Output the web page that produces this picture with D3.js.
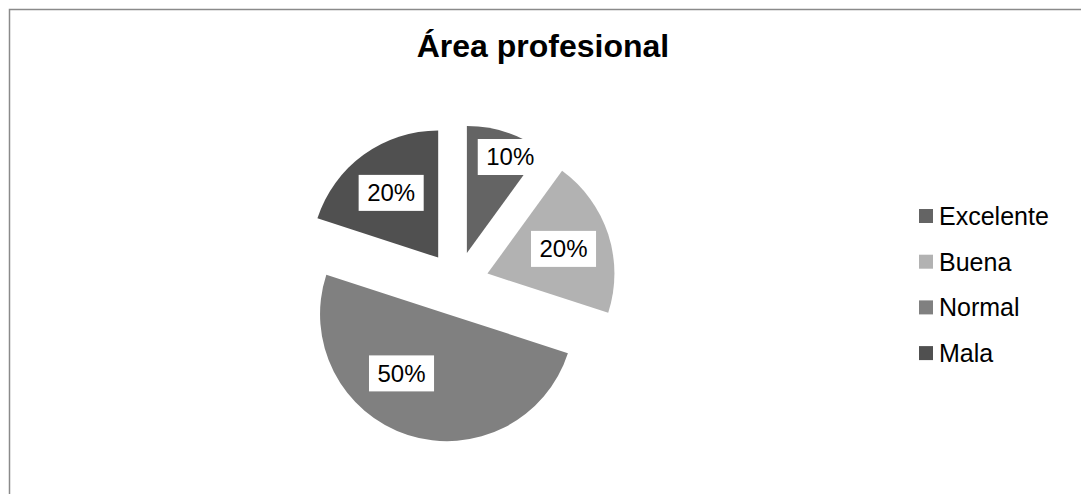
<!DOCTYPE html>
<html>
<head>
<meta charset="utf-8">
<script src="https://cdn.jsdelivr.net/npm/d3@7"></script>
<style>
  body { margin: 0; background: #fff; }
  svg { display: block; font-family: "Liberation Sans", Arial, sans-serif; }
</style>
</head>
<body>
<div id="chart"></div>
<script>
const title = 'Área profesional';
const categories = ['Excelente', 'Buena', 'Normal', 'Mala'];
const values = [10, 20, 50, 20];
const colors = ['#646464', '#b2b2b2', '#808080', '#505050'];

const width = 1081, height = 494;
const cx = 457, cy = 283.5;
const radius = 127;
const explode = 32;

const svg = d3.select('#chart').append('svg')
  .attr('width', width)
  .attr('height', height);

// marco del gráfico
svg.append('rect')
  .attr('x', 9.5).attr('y', 9.5)
  .attr('width', width + 20).attr('height', height + 20)
  .attr('fill', '#fff')
  .attr('stroke', '#8a8a8a')
  .attr('stroke-width', 1.5);

svg.append('text')
  .attr('x', 543).attr('y', 57)
  .attr('text-anchor', 'middle')
  .attr('font-size', 32)
  .attr('font-weight', 'bold')
  .attr('fill', '#000')
  .text(title);

const color = d3.scaleOrdinal().domain(categories).range(colors);
const total = d3.sum(values);
const data = categories.map((c, i) => ({ cat: c, value: values[i] }));

const pie = d3.pie().sort(null).value(d => d.value);
const arc = d3.arc().innerRadius(0).outerRadius(radius);

const g = svg.append('g').attr('transform', `translate(${cx},${cy})`);

const slices = g.selectAll('g.slice')
  .data(pie(data))
  .enter()
  .append('g')
  .attr('class', 'slice')
  .attr('transform', d => {
    const mid = (d.startAngle + d.endAngle) / 2;
    return `translate(${Math.sin(mid) * explode},${-Math.cos(mid) * explode})`;
  });

slices.append('path')
  .attr('d', arc)
  .attr('fill', d => color(d.data.cat));

// etiquetas con fondo blanco ("mejor ajuste")
slices.each(function (d) {
  const span = d.endAngle - d.startAngle;
  let mid = (d.startAngle + d.endAngle) / 2;
  let r = radius * 0.63;
  if (span < 0.8) { r = radius * 0.83; mid += 0.11; }
  if (span > 2.5) { r = radius * 0.59; mid += 0.34; }
  const x = Math.sin(mid) * r, y = -Math.cos(mid) * r;
  const lg = d3.select(this).append('g').attr('transform', `translate(${x},${y})`);
  const box = lg.append('rect').attr('fill', '#fff');
  const t = lg.append('text')
    .attr('text-anchor', 'middle')
    .attr('dy', '0.35em')
    .attr('font-size', 24)
    .attr('fill', '#000')
    .text(Math.round(d.data.value / total * 100) + '%');
  const bb = t.node().getBBox();
  box.attr('x', bb.x - 8.5).attr('y', -18)
    .attr('width', bb.width + 17).attr('height', 36);
});

// leyenda
const legend = svg.append('g').attr('transform', 'translate(919,216)');
const rows = legend.selectAll('g')
  .data(categories)
  .enter()
  .append('g')
  .attr('transform', (d, i) => `translate(0,${i * 45.7})`);

rows.append('rect')
  .attr('x', 0).attr('y', -7)
  .attr('width', 14).attr('height', 14)
  .attr('fill', d => color(d));

rows.append('text')
  .attr('x', 20).attr('dy', '0.36em')
  .attr('font-size', 25)
  .attr('fill', '#000')
  .text(d => d);
</script>
</body>
</html>
